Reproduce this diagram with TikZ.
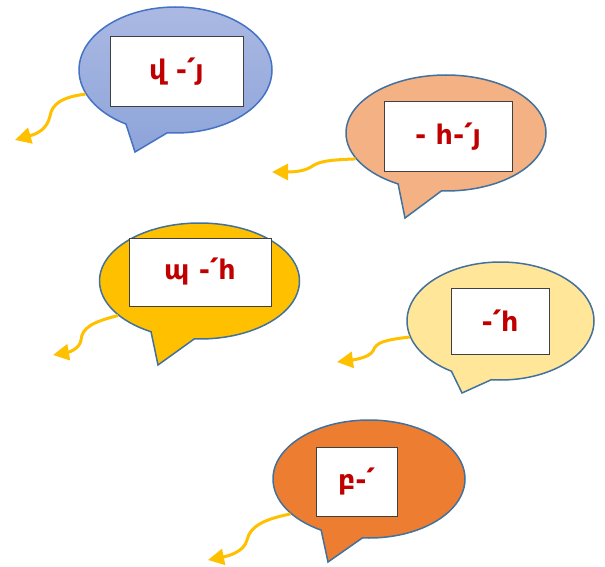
\documentclass[tikz,border=0pt]{standalone}
\usepackage{fontspec}
\newfontfamily\armfont{DejaVu Sans}
\usetikzlibrary{shapes.callouts, arrows.meta}
\definecolor{blueTop}{HTML}{ABB9E2}
\definecolor{blueBot}{HTML}{8DA4DA}
\definecolor{blueLine}{HTML}{4472C4}
\definecolor{steelLine}{HTML}{41719C}
\definecolor{peach}{HTML}{F4B183}
\definecolor{gold}{HTML}{FFC000}
\definecolor{cream}{HTML}{FFE699}
\definecolor{rust}{HTML}{ED7D31}
\definecolor{boxLine}{HTML}{404040}
\definecolor{wordRed}{HTML}{C00000}
\tikzset{
  bubble/.style={ellipse callout, draw=steelLine, line width=1.5pt, inner sep=0pt, callout pointer arc=26},
  wordbox/.style={rectangle, draw=boxLine, fill=white, line width=1pt, inner sep=0pt,
    font=\armfont\bfseries\fontsize{27}{32}\selectfont, text=wordRed},
  swirl/.style={draw=gold, line width=3pt, -{Triangle[length=16pt,width=16pt]}}
}
\begin{document}
\begin{tikzpicture}[x=1pt,y=-1pt]
\useasboundingbox (0,0) rectangle (605,567);

% speech bubbles
\node[bubble, draw=blueLine, top color=blueTop, bottom color=blueBot, minimum width=193pt, minimum height=126pt,
  callout absolute pointer={(135,152)}] (b1) at (175.5,70) {};
\node[bubble, fill=peach, minimum width=200pt, minimum height=116pt,
  callout absolute pointer={(405,218)}] (b2) at (446,133) {};
\node[bubble, fill=gold, minimum width=200pt, minimum height=116pt,
  callout absolute pointer={(158,365)}] (b3) at (199.5,281) {};
\node[bubble, fill=cream, minimum width=187pt, minimum height=118pt,
  callout absolute pointer={(462,393)}] (b4) at (500.5,321) {};
\node[bubble, fill=rust, minimum width=192pt, minimum height=118pt,
  callout absolute pointer={(328,562)}] (b5) at (369,479) {};

% words
\node[wordbox, minimum width=133pt, minimum height=70pt] (w1) at (176.5,72) {վ -՛յ};
\node[wordbox, minimum width=128pt, minimum height=69pt] (w2) at (448,136.5) {- հ-՛յ};
\node[wordbox, minimum width=142pt, minimum height=68pt] (w3) at (200,272) {պ -՛հ};
\node[wordbox, minimum width=98pt, minimum height=66pt] (w4) at (500,321) {-՛հ};
\node[wordbox, minimum width=81pt, minimum height=69pt] (w5) at (356.5,481.5) {բ-՛};

% arrow ends
\coordinate (t1) at (15,140);
\coordinate (t2) at (272,172);
\coordinate (t3) at (53,355);
\coordinate (t4) at (337,362);
\coordinate (t5) at (208,560);

% curly arrows
\draw[swirl] (b1.195) .. controls (62,97) and (52,104) .. (50,116) .. controls (47,130) and (36,134) .. (t1);
\draw[swirl] (b2.196) .. controls (325,160) and (318,162) .. (311,167) .. controls (303,172) and (290,172) .. (t2);
\draw[swirl] (b3.203) .. controls (92,322) and (82,328) .. (81,340) .. controls (80,348) and (70,352) .. (t3);
\draw[swirl] (b4.190) .. controls (385,340) and (376,342) .. (373,351) .. controls (369,358) and (352,360) .. (t4);
\draw[swirl] (b5.204) .. controls (265,519) and (250,526) .. (247,540) .. controls (244,552) and (228,556) .. (t5);

\end{tikzpicture}
\end{document}
